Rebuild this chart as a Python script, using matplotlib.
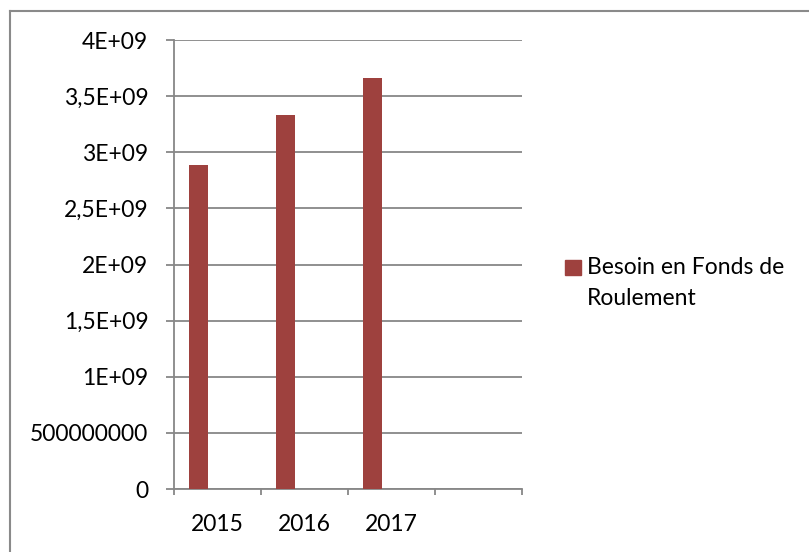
import numpy as np
import matplotlib
matplotlib.use("Agg")
import matplotlib.pyplot as plt
from matplotlib.patches import Rectangle
from matplotlib.lines import Line2D

# data
years = ["2015", "2016", "2017", ""]
bfr = [2.889e9, 3.329e9, 3.661e9]
series_name = "Besoin en Fonds de\nRoulement"
y_ticks = [0, 0.5e9, 1e9, 1.5e9, 2e9, 2.5e9, 3e9, 3.5e9, 4e9]
y_tick_labels = ["0", "500000000", "1E+09", "1,5E+09", "2E+09",
                 "2,5E+09", "3E+09", "3,5E+09", "4E+09"]

bar_color = "#9E413E"
grid_color = "#878787"
font = "Lato"
fs = 16.5

W, H = 809, 552
fig = plt.figure(figsize=(W / 100, H / 100), dpi=100)

# outer chart frame (only top and left edges visible)
fig.add_artist(Line2D([9.5 / W, 9.5 / W], [0, 1 - 10.5 / H], transform=fig.transFigure,
                      color="#8a8a8a", lw=1.5))
fig.add_artist(Line2D([9.5 / W, 1], [1 - 10.5 / H, 1 - 10.5 / H], transform=fig.transFigure,
                      color="#8a8a8a", lw=1.5))

ax = fig.add_axes([174 / W, (H - 489) / H, (522 - 174) / W, (489 - 40) / H])

# 3 series slots per category, gap 150% -> bar width 1/4.5, first slot offset
bw = 1 / 4.5
x = np.arange(len(bfr))
ax.bar(x - bw, bfr, width=bw, color=bar_color, zorder=3)

ax.set_xlim(-0.5, len(years) - 0.5)
ax.set_ylim(0, 4e9)

ax.set_yticks(y_ticks)
ax.set_yticklabels(y_tick_labels, fontsize=fs, family=font)
ax.yaxis.grid(True, color=grid_color, lw=1.3, zorder=0)

ax.set_xticks(np.arange(len(years)))
ax.set_xticklabels(years, fontsize=fs, family=font)
ax.set_xticks(np.arange(len(years) + 1) - 0.5, minor=True)
ax.tick_params(axis="x", which="major", length=0, pad=18)
ax.tick_params(axis="x", which="minor", length=4.5, width=1.3, color=grid_color, direction="out")
ax.tick_params(axis="y", length=6, width=1.3, color=grid_color, pad=12.5)

for s in ["top", "right"]:
    ax.spines[s].set_visible(False)
for s in ["left", "bottom"]:
    ax.spines[s].set_color(grid_color)
    ax.spines[s].set_linewidth(1.3)

# legend
fig.add_artist(Rectangle((565 / W, 1 - 275 / H), 16 / W, 15 / H, transform=fig.transFigure,
                         color=bar_color))
fig.text(587 / W, 1 - 257 / H, series_name, fontsize=fs, family=font,
         va="top", ha="left", linespacing=1.6)

fig.savefig("out.png", dpi=100)
